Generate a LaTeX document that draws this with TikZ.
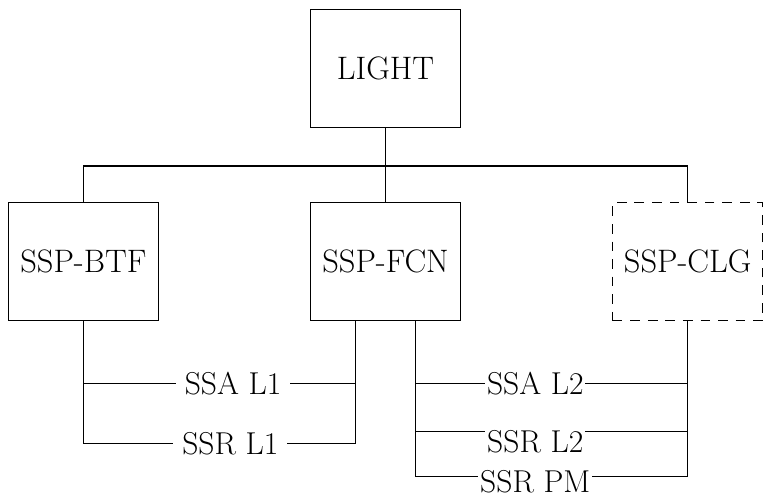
\documentclass[tikz,border=0pt]{standalone}
\usetikzlibrary{positioning,calc}
\tikzset{
  unitbox/.style={draw,line width=0.7pt,minimum width=3.0cm,minimum height=2.36cm,inner sep=0pt,font=\fontsize{18.5}{22}\selectfont},
  plannedbox/.style={unitbox,dash pattern=on 5.5pt off 4.5pt},
  link/.style={line width=0.7pt},
  linklabel/.style={fill=white,inner ysep=1pt,inner xsep=1pt,font=\fontsize{18}{22}\selectfont},
  widelabel/.style={linklabel,inner xsep=5pt}
}

\begin{document}
\begin{tikzpicture}[x=0.02cm,y=-0.02cm,node distance=1.48cm and 3.02cm]
  \useasboundingbox (0,0) rectangle (763,495);
  \node[unitbox] (light) at (385.5,68.5) {LIGHT};
  \node[unitbox,below=of light] (fcn) {SSP-FCN};
  \node[unitbox,left=of fcn] (btf) {SSP-BTF};
  \node[plannedbox,right=of fcn] (clg) {SSP-CLG};
  \coordinate (bus) at ($(light.south)+(0,38)$);
  \coordinate (fcnL) at ($(fcn.south)+(-30,0)$);
  \coordinate (fcnR) at ($(fcn.south)+(30,0)$);
  % top level
  \draw[link] (light) -- (fcn);
  \draw[link] (btf.north) -- (btf.north|-bus) -- (clg.north|-bus) -- (clg.north);
  % SSP-BTF / SSP-FCN level one
  \draw[link] ($(btf.south)+(0,62)$) -- node[widelabel,pos=0.55]{SSA L1} ($(fcnL)+(0,62)$);
  \draw[link] (btf.south) |- node[widelabel,pos=0.77]{SSR L1} ($(fcnL)+(0,122)$) -- (fcnL);
  % SSP-FCN / SSP-CLG level two
  \draw[link] ($(fcnR)+(0,62)$) -- node[linklabel,pos=0.44]{SSA L2} ($(clg.south)+(0,62)$);
  \draw[link] ($(fcnR)+(0,110)$) -- node[linklabel,pos=0.44,yshift=-0.2cm]{SSR L2} ($(clg.south)+(0,110)$);
  \draw[link] (fcnR) |- node[linklabel,pos=0.72,yshift=-0.1cm,inner ysep=0.3pt]{SSR PM} ($(clg.south)+(0,155)$) -- (clg.south);
\end{tikzpicture}
\end{document}
